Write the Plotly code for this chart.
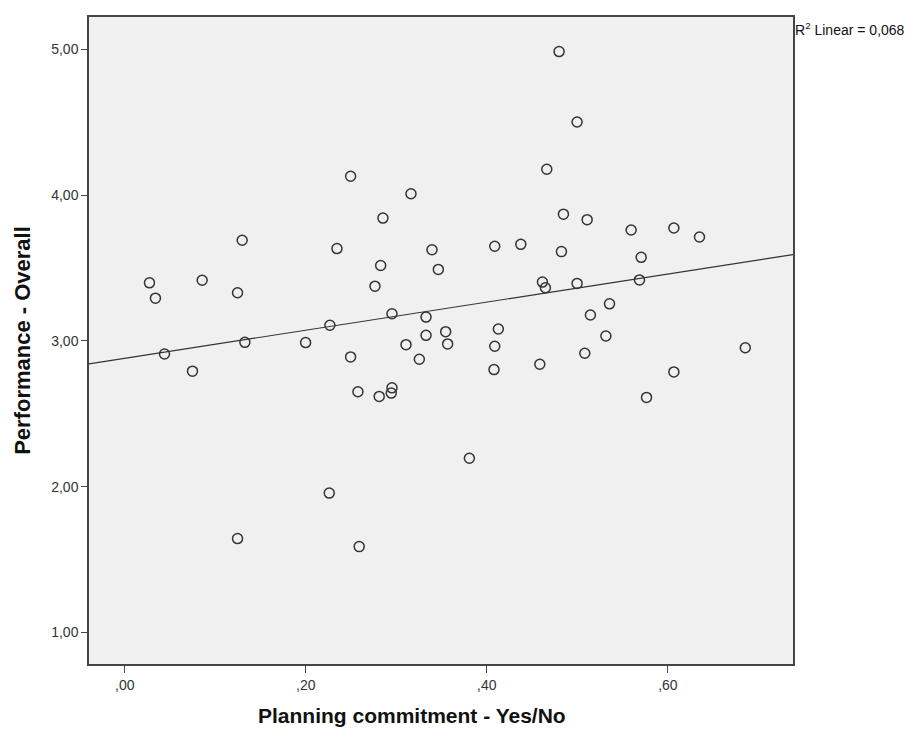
import numpy as np
import plotly.graph_objects as go

planning = [0.0273, 0.0339, 0.0439, 0.0748, 0.0855, 0.1246, 0.1246, 0.1297, 0.1327,
            0.1998, 0.2259, 0.2266, 0.2344, 0.2495, 0.2495, 0.2576, 0.2590, 0.2764,
            0.2811, 0.2827, 0.2852, 0.2944, 0.2952, 0.2952, 0.3107, 0.3162, 0.3254,
            0.3328, 0.3328, 0.3394, 0.3464, 0.3545, 0.3567, 0.3807, 0.4079, 0.4087,
            0.4087, 0.4127, 0.4375, 0.4585, 0.4614, 0.4647, 0.4662, 0.4798, 0.4824,
            0.4846, 0.4997, 0.4997, 0.5082, 0.5108, 0.5144, 0.5315, 0.5355, 0.5594,
            0.5686, 0.5705, 0.5764, 0.6066, 0.6066, 0.6349, 0.6855]
performance = [3.398, 3.293, 2.910, 2.792, 3.416, 3.330, 1.644, 3.690, 2.990,
               2.988, 1.956, 3.107, 3.633, 4.129, 2.890, 2.651, 1.589, 3.375,
               2.619, 3.517, 3.842, 2.642, 2.678, 3.186, 2.974, 4.009, 2.874,
               3.163, 3.038, 3.625, 3.490, 3.063, 2.979, 2.195, 2.803, 3.649,
               2.963, 3.081, 3.662, 2.840, 3.403, 3.364, 4.177, 4.984, 3.612,
               3.869, 4.501, 3.394, 2.915, 3.831, 3.177, 3.033, 3.254, 3.760,
               3.418, 3.573, 2.612, 3.774, 2.787, 3.712, 2.953]

x_ticks = [0.0, 0.2, 0.4, 0.6]
x_tick_labels = [",00", ",20", ",40", ",60"]
y_ticks = [1, 2, 3, 4, 5]
y_tick_labels = ["1,00", "2,00", "3,00", "4,00", "5,00"]
x_range = [-0.0395, 0.7382]
y_range = [0.784, 5.221]
x_title = "Planning commitment - Yes/No"
y_title = "Performance - Overall"
r2_label = "R<sup>2</sup> Linear = 0,068"

slope, intercept = np.polyfit(planning, performance, 1)
line_x = np.array(x_range)
line_y = intercept + slope * line_x

fig = go.Figure()
fig.add_trace(go.Scatter(x=line_x, y=line_y, mode="lines",
                         line=dict(color="#333333", width=1.2),
                         hoverinfo="skip", showlegend=False))
fig.add_trace(go.Scatter(x=planning, y=performance, mode="markers",
                         marker=dict(symbol="circle-open", size=10,
                                     color="#333333", line=dict(width=1.5)),
                         showlegend=False))

fig.update_layout(
    width=920, height=731,
    margin=dict(l=81, r=135, t=7, b=75),
    paper_bgcolor="white",
    plot_bgcolor="#f0f0f0",
    font=dict(family="Liberation Sans, Arial, sans-serif", color="#222222", size=14),
    xaxis=dict(range=x_range, tickvals=x_ticks, ticktext=x_tick_labels,
               showgrid=False, zeroline=False, showline=True, mirror=True,
               linecolor="#444444", linewidth=1.5, ticks="outside", ticklen=7,
               tickcolor="#444444", tickwidth=1.2,
               tickfont=dict(size=14, color="#333333")),
    yaxis=dict(range=y_range, tickvals=y_ticks, ticktext=y_tick_labels,
               showgrid=False, zeroline=False, showline=True, mirror=True,
               linecolor="#444444", linewidth=1.5, ticks="outside", ticklen=6,
               tickcolor="#444444", tickwidth=1.2,
               tickfont=dict(size=14, color="#333333"),
               title=dict(text="<b>" + y_title + "</b>",
                          font=dict(size=22, color="#111111"), standoff=15)),
    annotations=[
        dict(text=r2_label, x=1.0, y=1.0, xref="paper", yref="paper",
             xanchor="left", yanchor="top", xshift=0, yshift=-1,
             showarrow=False, font=dict(size=14, color="#111111")),
        dict(text="<b>" + x_title + "</b>", x=0.459, y=0, xref="paper", yref="paper",
             xanchor="center", yanchor="middle", yshift=-51,
             showarrow=False, font=dict(size=21, color="#111111")),
    ],
)

fig.write_html("out.html")
